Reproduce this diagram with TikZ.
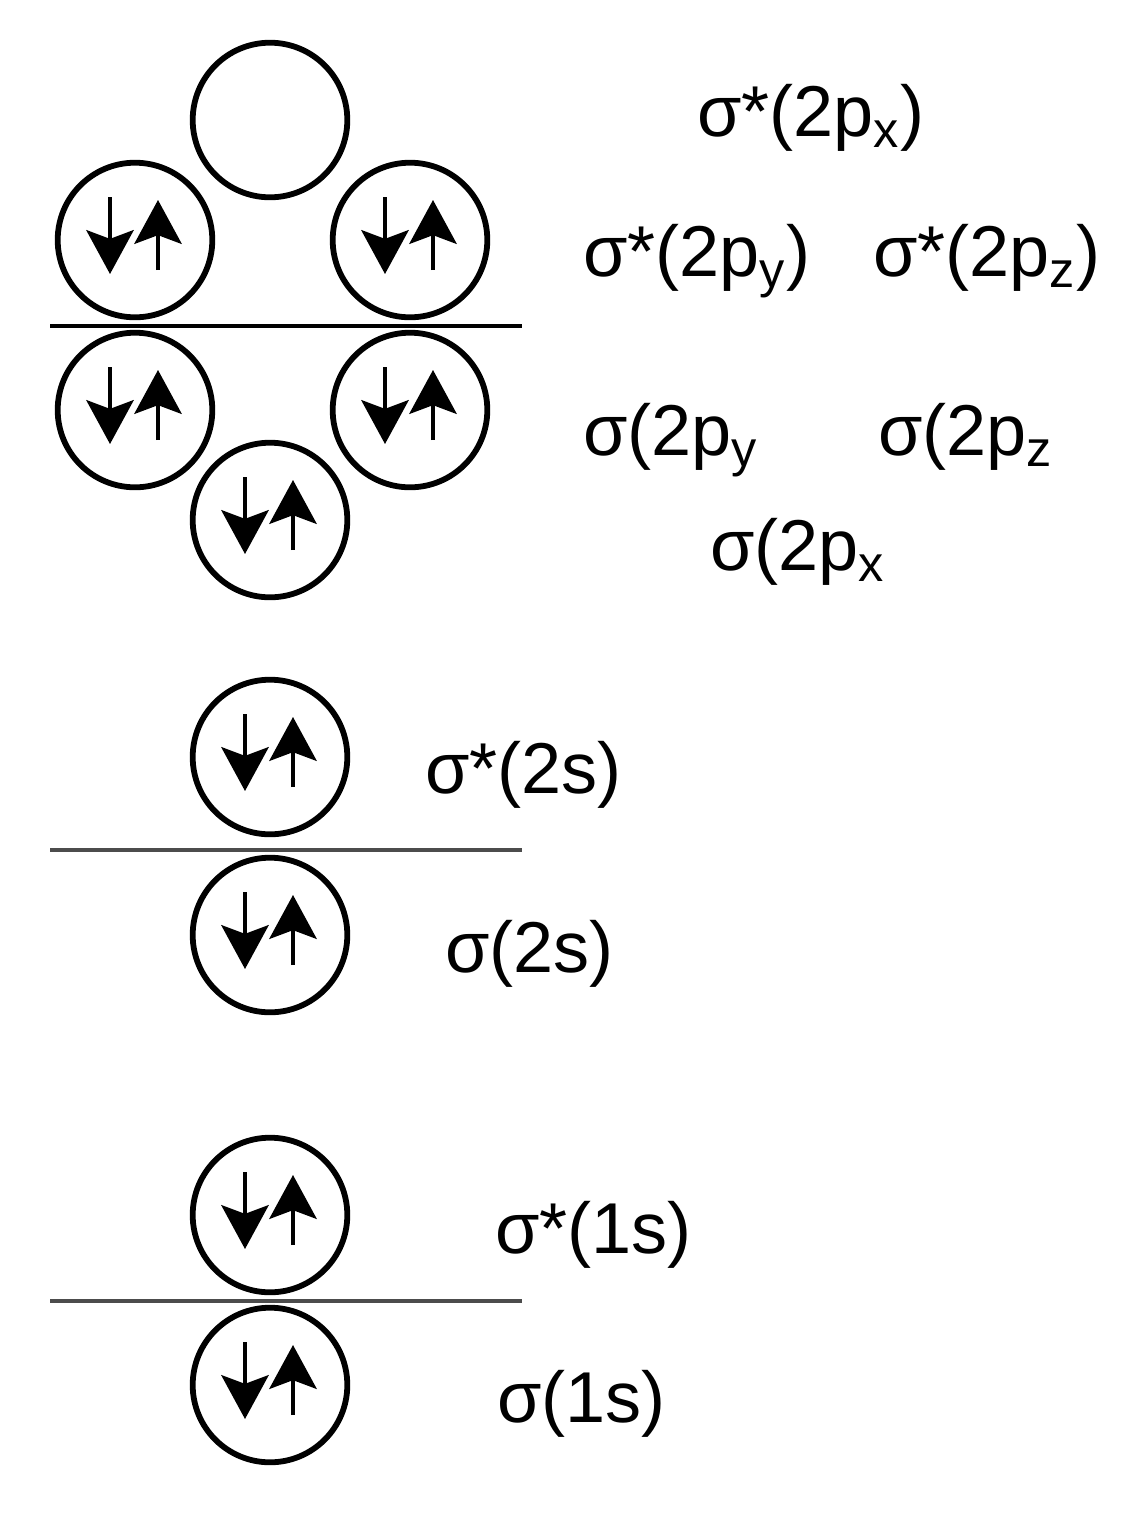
\documentclass[tikz,border=0pt]{standalone}
\usepackage{fontspec}
\setmainfont{Liberation Sans}
\usetikzlibrary{arrows.meta}
\begin{document}
\begin{tikzpicture}[x=0.02cm,y=-0.02cm,
  orb/.style={circle,draw,line width=3.3pt,minimum size=88pt,inner sep=0pt},
  spin/.style={line width=2pt,-{Stealth[length=25pt,width=27pt,inset=5pt]}},
  sepline/.style={line width=1.8pt},
  lbl/.style={anchor=base west,inner sep=0pt,font=\fontsize{41}{48}\selectfont},
  pics/pair/.style={code={
    \draw[spin] (-25,-43) -- (-25,34);
    \draw[spin] (23,30) -- (23,-40);
  }}]
\useasboundingbox (0,0) rectangle (1130,1536);
% 2p block
\node[orb] (sx) at (270,120) {};
\node[orb] (sy) at (135,240) {};
\node[orb] (sz) at (410,240) {};
\node[orb] (by) at (135,410) {};
\node[orb] (bz) at (410,410) {};
\node[orb] (bx) at (270,520) {};
\foreach \n in {sy,sz,by,bz,bx} \pic at (\n) {pair};
\draw[sepline] (50,326) -- (522,326);
% 2s block
\node[orb] (s2s) at (270,757) {};
\node[orb] (b2s) at (270,935) {};
\foreach \n in {s2s,b2s} \pic at (\n) {pair};
\draw[sepline,black!70] (50,850) -- (522,850);
% 1s block
\node[orb] (s1s) at (270,1215) {};
\node[orb] (b1s) at (270,1385) {};
\foreach \n in {s1s,b1s} \pic at (\n) {pair};
\draw[sepline,black!70] (50,1301) -- (522,1301);
% labels
\node[lbl] (lsx) at (697,136) {σ*(2p\textsubscript{x})};
\node[lbl] (lsy) at (583,276) {σ*(2p\textsubscript{y})};
\node[lbl] (lsz) at (873,276) {σ*(2p\textsubscript{z})};
\node[lbl] (lby) at (583,455) {σ(2p\textsubscript{y}};
\node[lbl] (lbz) at (878,455) {σ(2p\textsubscript{z}};
\node[lbl] (lbx) at (710,570) {σ(2p\textsubscript{x}};
\node[lbl] (ls2s) at (425,793) {σ*(2s)};
\node[lbl] (lb2s) at (445,972) {σ(2s)};
\node[lbl] (ls1s) at (495,1253) {σ*(1s)};
\node[lbl] (lb1s) at (497,1422) {σ(1s)};
\end{tikzpicture}
\end{document}
